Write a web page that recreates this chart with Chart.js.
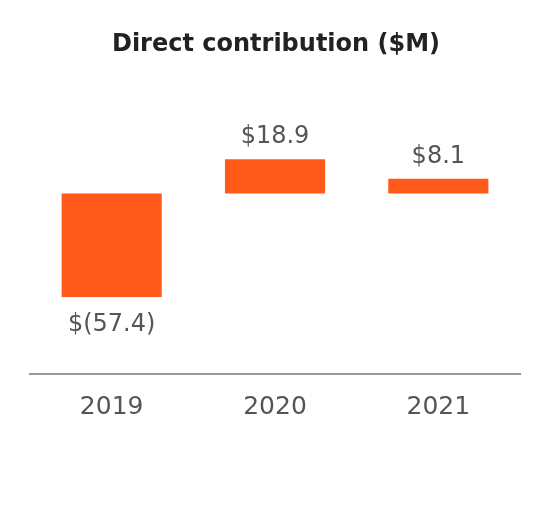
<!DOCTYPE html>
<html><head><meta charset="utf-8">
<script src="https://cdn.jsdelivr.net/npm/chart.js@4"></script>
<style>html,body{margin:0;padding:0;background:#fff}#w{width:550px;height:510px}</style>
</head><body><div id="w"><canvas id="c"></canvas></div>
<script>
const categories = ["2019", "2020", "2021"];
const values = [-57.4, 18.9, 8.1];
const valueLabels = ["$(57.4)", "$18.9", "$8.1"];
const titleText = "Direct contribution ($M)";

const labelPlugin = {
  id: 'lbl',
  afterDatasetsDraw(chart) {
    const ctx = chart.ctx;
    const meta = chart.getDatasetMeta(0);
    ctx.save();
    ctx.fillStyle = '#555';
    ctx.font = '24px "DejaVu Sans"';
    ctx.textAlign = 'center';
    meta.data.forEach((bar, i) => {
      if (values[i] >= 0) {
        ctx.textBaseline = 'bottom';
        ctx.fillText(valueLabels[i], bar.x, bar.y - 10);
      } else {
        ctx.textBaseline = 'top';
        ctx.fillText(valueLabels[i], bar.x, bar.y + 16);
      }
    });
    ctx.fillStyle = '#222';
    ctx.font = 'bold 24px "DejaVu Sans"';
    ctx.textBaseline = 'middle';
    ctx.fillText(titleText, 276, 45);
    ctx.restore();
  }
};

new Chart(document.getElementById('c'), {
  type: 'bar',
  data: { labels: categories, datasets: [{ data: values, backgroundColor: '#ff5a19', barPercentage: 0.613, categoryPercentage: 1 }] },
  options: {
    responsive: true, maintainAspectRatio: false, animation: false,
    layout: { padding: { top: 85, left: 30, right: 30, bottom: 78 } },
    plugins: { legend: { display: false }, tooltip: { enabled: false } },
    scales: {
      y: { display: false, min: -100, max: 60 },
      x: {
        grid: { display: false },
        border: { display: true, color: '#999', width: 2 },
        ticks: { color: '#555', font: { size: 25, family: 'DejaVu Sans' }, padding: 10 }
      }
    }
  },
  plugins: [labelPlugin]
});
</script></body></html>
